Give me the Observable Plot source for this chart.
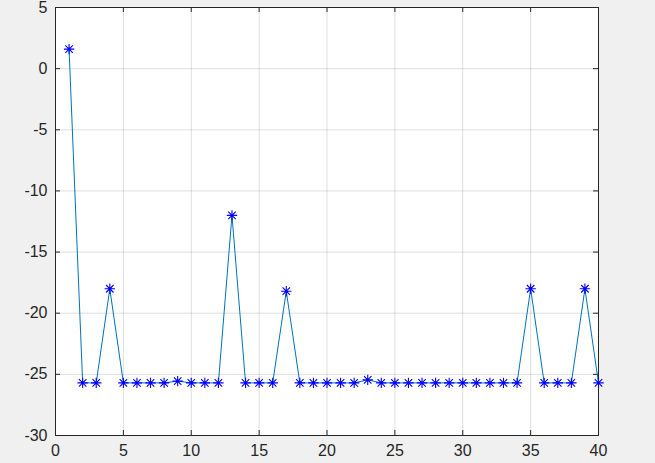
<!DOCTYPE html>
<html>
<head>
<meta charset="utf-8">
<script src="https://cdn.jsdelivr.net/npm/d3@7"></script>
<script src="https://cdn.jsdelivr.net/npm/@observablehq/plot@0.6"></script>
<style>
  html, body { margin: 0; padding: 0; background: #f0f0f0; }
  #chart svg { display: block; background: transparent; }
</style>
</head>
<body>
<div id="chart"></div>
<script>
// Data
const xs = d3.range(1, 41);
const ys = [
  1.6, -25.7, -25.7, -18.0, -25.7, -25.7, -25.7, -25.7, -25.55, -25.7,
  -25.7, -25.7, -12.0, -25.7, -25.7, -25.7, -18.2, -25.7, -25.7, -25.7,
  -25.7, -25.7, -25.45, -25.7, -25.7, -25.7, -25.7, -25.7, -25.7, -25.7,
  -25.7, -25.7, -25.7, -25.7, -18.0, -25.7, -25.7, -25.7, -18.0, -25.7
];
const xTicks = [0, 5, 10, 15, 20, 25, 30, 35, 40];
const yTicks = [-30, -25, -20, -15, -10, -5, 0, 5];

const data = xs.map((x, i) => ({x, y: ys[i]}));

const W = 655, H = 463;
const mL = 55, mR = 57, mT = 7, mB = 28;
const tickLen = 5;
const innerW = W - mL - mR, innerH = H - mT - mB;

// MATLAB-style '*' marker: plus + cross
const star = {
  draw(ctx, size) {
    const r = Math.sqrt(size / Math.PI);
    const d = r * 0.72;
    ctx.moveTo(-r, 0); ctx.lineTo(r, 0);
    ctx.moveTo(0, -r); ctx.lineTo(0, r);
    ctx.moveTo(-d, -d); ctx.lineTo(d, d);
    ctx.moveTo(-d, d); ctx.lineTo(d, -d);
  }
};

const axisColor = "#262626";

const chart = Plot.plot({
  width: W, height: H,
  marginLeft: mL, marginRight: mR, marginTop: mT, marginBottom: mB,
  style: {fontFamily: "Arial, 'Liberation Sans', Helvetica, sans-serif", fontSize: "16px", color: axisColor, background: "transparent"},
  x: {domain: [0, 40], ticks: xTicks, tickSize: 0, tickPadding: 9, tickFormat: d => String(d), label: null},
  y: {domain: [-30, 5], ticks: yTicks, tickSize: 0, tickPadding: 8, tickFormat: d => String(d), label: null},
  marks: [
    Plot.frame({fill: "white", stroke: "none"}),
    Plot.gridX(xTicks, {stroke: axisColor, strokeOpacity: 0.15}),
    Plot.gridY(yTicks, {stroke: axisColor, strokeOpacity: 0.15}),
    // inward ticks (bottom/top/left/right)
    Plot.tickX(xTicks, {x: d => d, insetTop: innerH - tickLen, stroke: axisColor}),
    Plot.tickX(xTicks, {x: d => d, insetBottom: innerH - tickLen, stroke: axisColor}),
    Plot.tickY(yTicks, {y: d => d, insetRight: innerW - tickLen, stroke: axisColor}),
    Plot.tickY(yTicks, {y: d => d, insetLeft: innerW - tickLen, stroke: axisColor}),
    Plot.frame({stroke: axisColor, strokeWidth: 1}),
    Plot.line(data, {x: "x", y: "y", stroke: "#0072BD", strokeWidth: 1}),
    Plot.dot(data, {x: "x", y: "y", symbol: star, r: 5.2, fill: "none", stroke: "#0000ff", strokeWidth: 1.1})
  ]
});

document.getElementById("chart").appendChild(chart);
</script>
</body>
</html>
